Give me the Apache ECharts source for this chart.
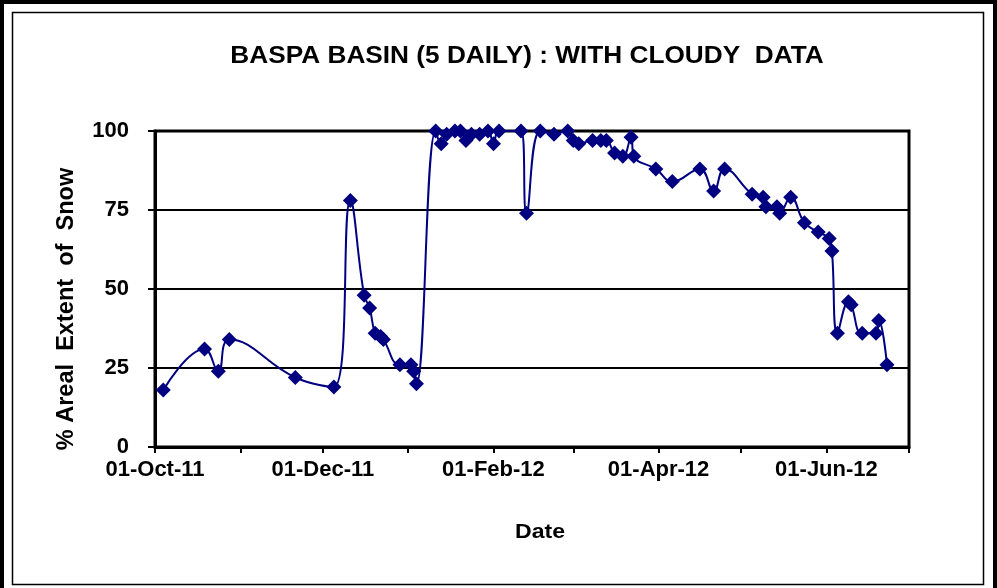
<!DOCTYPE html>
<html>
<head>
<meta charset="utf-8">
<title>Baspa Basin snow cover</title>
<script src="https://cdn.jsdelivr.net/npm/echarts@6/dist/echarts.min.js"></script>
<style>
  html, body { margin: 0; padding: 0; background: #fff; }
  #chart { width: 997px; height: 588px; }
</style>
</head>
<body>
<div id="chart"></div>
<script>
// Observation dates (5-daily composites, cloudy scenes included)
const dates = [
  '2011-10-04', '2011-10-19', '2011-10-24', '2011-10-28', '2011-11-21',
  '2011-12-05', '2011-12-11', '2011-12-16', '2011-12-18', '2011-12-20',
  '2011-12-22', '2011-12-23', '2011-12-29', '2012-01-02', '2012-01-03',
  '2012-01-04', '2012-01-11', '2012-01-13', '2012-01-15', '2012-01-18',
  '2012-01-20', '2012-01-22', '2012-01-24', '2012-01-27', '2012-01-30',
  '2012-02-01', '2012-02-03', '2012-02-11', '2012-02-13', '2012-02-18',
  '2012-02-23', '2012-02-28', '2012-03-01', '2012-03-03', '2012-03-08',
  '2012-03-11', '2012-03-13', '2012-03-16', '2012-03-19', '2012-03-22',
  '2012-03-23', '2012-03-31', '2012-04-06', '2012-04-16', '2012-04-21',
  '2012-04-25', '2012-05-05', '2012-05-09', '2012-05-10', '2012-05-14',
  '2012-05-15', '2012-05-19', '2012-05-24', '2012-05-29', '2012-06-02',
  '2012-06-03', '2012-06-05', '2012-06-09', '2012-06-10', '2012-06-14',
  '2012-06-19', '2012-06-20', '2012-06-23'
];

// Areal extent of snow (%)
const snowCover = [
  18, 31, 24, 34, 22,
  19, 78, 48, 44, 36,
  35, 34, 26, 26, 24,
  20, 100, 96, 99, 100,
  100, 97, 99, 99, 100,
  96, 100, 100, 74, 100,
  99, 100, 97, 96, 97,
  97, 97, 93, 92, 98,
  92, 88, 84, 88, 81,
  88, 80, 79, 76, 76,
  74, 79, 71, 68, 66,
  62, 36, 46, 45, 36,
  36, 40, 26
];

// Axis extents and tick values
const axisStart = '2011-10-01';
const axisEnd = '2012-07-01';
const monthTicks = [
  '2011-10-01', '2011-11-01', '2011-12-01', '2012-01-01', '2012-02-01',
  '2012-03-01', '2012-04-01', '2012-05-01', '2012-06-01', '2012-07-01'
];
const dateLabels = ['2011-10-01', '2011-12-01', '2012-02-01', '2012-04-01', '2012-06-01'];

const titleText = 'BASPA BASIN (5 DAILY) : WITH CLOUDY  DATA';
const yName = '% Areal  Extent  of  Snow';
const xName = 'Date';

const MONTHS = ['Jan', 'Feb', 'Mar', 'Apr', 'May', 'Jun', 'Jul', 'Aug', 'Sep', 'Oct', 'Nov', 'Dec'];
function toTime(s) {
  const p = s.split('-').map(Number);
  return new Date(p[0], p[1] - 1, p[2]).getTime();
}
function fmtDate(t) {
  const d = new Date(t);
  const dd = String(d.getDate()).padStart(2, '0');
  const yy = String(d.getFullYear() % 100).padStart(2, '0');
  return dd + '-' + MONTHS[d.getMonth()] + '-' + yy;
}

const seriesData = dates.map((d, i) => [toTime(d), snowCover[i]]);
const FONT = '"Liberation Sans", Arial, sans-serif';
const NAVY = '#000080';

const chart = echarts.init(document.getElementById('chart'), null, { renderer: 'canvas' });

chart.setOption({
  backgroundColor: '#ffffff',
  animation: false,
  grid: {
    left: 155, right: 88, top: 131, bottom: 141,
    show: true, borderColor: '#000', borderWidth: 3, backgroundColor: 'transparent'
  },
  xAxis: {
    // dates are kept as timestamps on a linear axis so month ticks can be placed exactly
    type: 'value',
    min: toTime(axisStart),
    max: toTime(axisEnd),
    axisLine: { show: true, onZero: false, lineStyle: { color: '#000', width: 3 } },
    axisTick: {
      show: true, length: 6, inside: false,
      lineStyle: { color: '#000', width: 2 },
      customValues: monthTicks.map(toTime)
    },
    axisLabel: {
      show: true, margin: 12,
      color: '#000', fontFamily: FONT, fontWeight: 'bold', fontSize: 22,
      customValues: dateLabels.map(toTime),
      formatter: (v) => fmtDate(v),
      showMinLabel: true, showMaxLabel: true
    },
    splitLine: { show: false }
  },
  yAxis: {
    type: 'value',
    min: 0, max: 100, interval: 25,
    axisLine: { show: true, lineStyle: { color: '#000', width: 3 } },
    axisTick: { show: true, length: 7, lineStyle: { color: '#000', width: 2 } },
    axisLabel: {
      margin: 26, color: '#000', fontFamily: FONT, fontWeight: 'bold', fontSize: 22
    },
    splitLine: { show: true, lineStyle: { color: '#000', width: 2 } }
  },
  series: [{
    type: 'line',
    data: seriesData,
    smooth: 0.45,
    symbol: 'diamond',
    symbolSize: 15,
    showAllSymbol: true,
    lineStyle: { color: NAVY, width: 2 },
    itemStyle: { color: NAVY, borderWidth: 0 },
    z: 3
  }],
  graphic: [
    // outer heavy frame
    { type: 'rect', shape: { x: 2, y: 2, width: 993, height: 590 },
      style: { fill: 'none', stroke: '#000', lineWidth: 4 }, silent: true },
    // inner thin frame
    { type: 'rect', shape: { x: 12.5, y: 12.5, width: 971, height: 572 },
      style: { fill: 'none', stroke: '#000', lineWidth: 1.5 }, silent: true },
    // chart title
    { type: 'text', x: 527, y: 57, scaleX: 1.14,
      style: { text: titleText, fill: '#000', font: 'bold 23px ' + FONT,
               textAlign: 'center', textVerticalAlign: 'middle' }, silent: true },
    // value-axis name
    { type: 'text', x: 66, y: 309, rotation: Math.PI / 2, scaleX: 1.07, scaleY: 1.1,
      style: { text: yName, fill: '#000', font: 'bold 22px ' + FONT,
               textAlign: 'center', textVerticalAlign: 'middle' }, silent: true },
    // date-axis name
    { type: 'text', x: 540, y: 532, scaleX: 1.1,
      style: { text: xName, fill: '#000', font: 'bold 21px ' + FONT,
               textAlign: 'center', textVerticalAlign: 'middle' }, silent: true }
  ]
});
</script>
</body>
</html>
